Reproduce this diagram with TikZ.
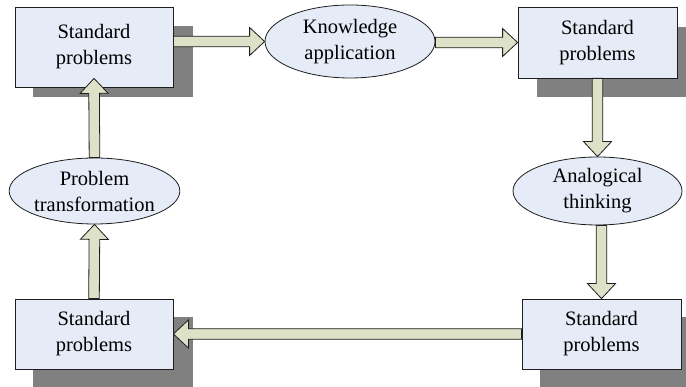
\documentclass[tikz,border=0pt]{standalone}
\usepackage{fontspec}
\setmainfont{Liberation Serif}
\usetikzlibrary{shapes.geometric,calc,backgrounds}

\definecolor{boxfill}{HTML}{E6ECF7}
\definecolor{arrowfill}{HTML}{DDE1C7}
\definecolor{shadowgray}{HTML}{808080}
\definecolor{edgegray}{HTML}{1E1E1E}

\def\shaftw{5.3pt}
\def\headw{14pt}
\def\headlen{15pt}

% fat arrow from #1 (tail) to #2 (tip)
\newcommand\blockarrow[2]{%
	\coordinate (hb) at ($(#2)!\headlen!(#1)$);
	\draw[fatarrow] ($(#1)!\shaftw!90:(#2)$) -- ($(hb)!\shaftw!90:(#2)$) -- ($(hb)!\headw!90:(#2)$) -- (#2)
		-- ($(hb)!\headw!-90:(#2)$) -- ($(hb)!\shaftw!-90:(#2)$) -- ($(#1)!\shaftw!-90:(#2)$) -- cycle;
}

\begin{document}
\begin{tikzpicture}[x=1pt,y=1pt,
		stdbox/.style={draw=edgegray,fill=boxfill,line width=0.8pt,minimum width=158pt,minimum height=71pt,inner sep=0pt,align=center,font=\fontsize{20.5}{26}\selectfont},
		idea/.style={ellipse,draw=edgegray,fill=boxfill,line width=0.8pt,inner sep=0pt,align=center,font=\fontsize{20.5}{26}\selectfont},
		boxshadow/.style={fill=shadowgray},
		fatarrow/.style={draw=edgegray,fill=arrowfill,line width=0.8pt,line join=miter}]

	\useasboundingbox (0,0) rectangle (686,387);

	% the four problem boxes
	\node[stdbox,minimum height=80pt] (tl) at (94,340) {Standard\\problems};
	\node[stdbox,minimum width=159pt] (tr) at (597.5,344.5) {Standard\\problems};
	\node[stdbox,minimum width=159pt,minimum height=70pt] (br) at (601.5,53) {Standard\\problems};
	\node[stdbox,minimum height=70pt] (bl) at (94,53) {Standard\\problems};

	% shadows behind the boxes
	\begin{scope}[on background layer]
		\fill[boxshadow] ($(tl.south west)+(18,-10)$) rectangle ($(tl.north east)+(20,-19)$);
		\fill[boxshadow] ($(tr.south west)+(19,-19)$) rectangle ($(tr.north east)+(19,-20)$);
		\fill[boxshadow] ($(br.south west)+(18,-18)$) rectangle ($(br.north east)+(18,-18)$);
		\fill[boxshadow] ($(bl.south west)+(18,-18)$) rectangle ($(bl.north east)+(20,-18)$);
	\end{scope}

	% the three steps in between
	\node[idea,minimum width=170pt,minimum height=73pt] (ka) at (350,345.5) {Knowledge\\application};
	\node[idea,minimum width=169pt,minimum height=68pt] (at) at (597.5,196) {Analogical\\thinking};
	\node[idea,minimum width=167pt,minimum height=66pt] (pt) at (94.5,196) {Problem\\transformation};

	% arrows round the loop
	\coordinate (a1) at (tl.east |- ka.west);
	\blockarrow{a1}{ka.west}
	\coordinate (a2) at (ka.east |- tr.west);
	\blockarrow{a2}{tr.west}
	\blockarrow{tr.south}{at.north}
	\coordinate (a3) at (at.south -| br.north);
	\blockarrow{a3}{br.north}
	\blockarrow{br.west}{bl.east}
	\blockarrow{bl.north}{pt.south}
	\coordinate (tltip) at ($(tl.south)+(0,9)$);
	\blockarrow{pt.north}{tltip}
\end{tikzpicture}
\end{document}
